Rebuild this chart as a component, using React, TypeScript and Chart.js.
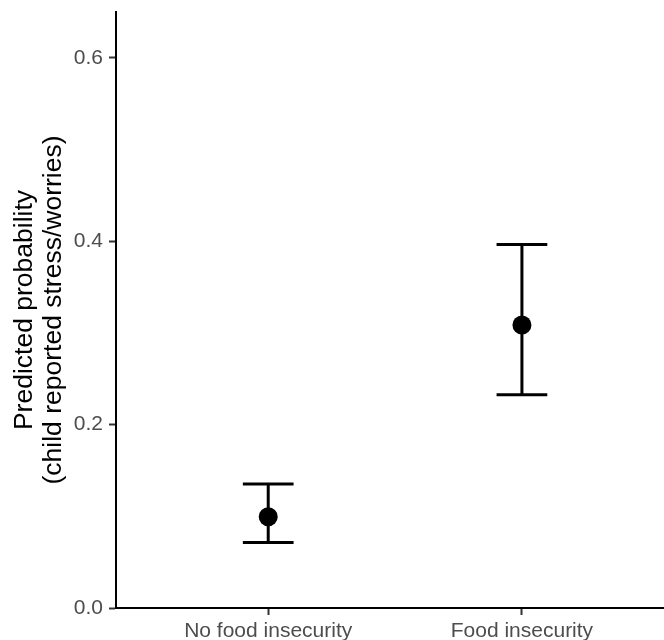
import React, { useEffect, useRef } from "react";
import { Chart, registerables } from "chart.js";

Chart.register(...registerables);

const categories = ["No food insecurity", "Food insecurity"];
const categoryPositions = [1, 2];
const estimates = [0.0996, 0.3087];
const lowerBounds = [0.0713, 0.2327];
const upperBounds = [0.1353, 0.3963];
const yTicks = [0, 0.2, 0.4, 0.6];
const yTickLabels = ["0.0", "0.2", "0.4", "0.6"];
const yTitle = ["Predicted probability", "(child reported stress/worries)"];
const capHalfWidth = 0.1;

const FONT = "'Liberation Sans', Arial, Helvetica, sans-serif";

const errorBarPlugin = {
  id: "errorBars",
  beforeDatasetsDraw(chart: any) {
    const { ctx, scales } = chart;
    const xs = scales.x;
    const ys = scales.y;
    ctx.save();
    ctx.strokeStyle = "#000000";
    ctx.lineWidth = 3;
    ctx.lineCap = "butt";
    for (let i = 0; i < categoryPositions.length; i++) {
      const x = xs.getPixelForValue(categoryPositions[i]);
      const xl = xs.getPixelForValue(categoryPositions[i] - capHalfWidth);
      const xr = xs.getPixelForValue(categoryPositions[i] + capHalfWidth);
      const yl = ys.getPixelForValue(lowerBounds[i]);
      const yh = ys.getPixelForValue(upperBounds[i]);
      ctx.beginPath();
      ctx.moveTo(x, yl);
      ctx.lineTo(x, yh);
      ctx.moveTo(xl, yh);
      ctx.lineTo(xr, yh);
      ctx.moveTo(xl, yl);
      ctx.lineTo(xr, yl);
      ctx.stroke();
    }
    ctx.restore();
  },
};

export default function App() {
  const ref = useRef<HTMLCanvasElement | null>(null);

  useEffect(() => {
    if (!ref.current) return;
    const chart = new Chart(ref.current, {
      type: "scatter",
      data: {
        datasets: [
          {
            data: categoryPositions.map((x, i) => ({ x, y: estimates[i] })),
            backgroundColor: "#000000",
            borderWidth: 0,
            pointRadius: 9.5,
            pointHoverRadius: 9.5,
          },
        ],
      },
      options: {
        animation: false,
        responsive: false,
        events: [],
        layout: { autoPadding: false, padding: { top: 12, right: 0, left: 0, bottom: 0 } },
        plugins: {
          legend: { display: false },
          tooltip: { enabled: false },
        },
        scales: {
          x: {
            type: "linear",
            min: 0.4,
            max: 2.56,
            afterBuildTicks: (scale: any) => {
              scale.ticks = categoryPositions.map((v) => ({ value: v }));
            },
            afterFit: (scale: any) => {
              scale.height = 32;
              scale.paddingLeft = 0;
              scale.paddingRight = 0;
            },
            ticks: {
              autoSkip: false,
              maxRotation: 0,
              padding: 4,
              color: "#4D4D4D",
              font: { family: FONT, size: 21 },
              callback: (value: any) => {
                const idx = categoryPositions.indexOf(Number(value));
                return idx >= 0 ? categories[idx] : "";
              },
            },
            grid: {
              display: true,
              drawOnChartArea: false,
              drawTicks: true,
              tickLength: 7,
              tickColor: "#333333",
              tickWidth: 2,
            },
            border: { display: true, color: "#000000", width: 2 },
          },
          y: {
            type: "linear",
            min: 0,
            max: 0.65,
            afterBuildTicks: (scale: any) => {
              scale.ticks = yTicks.map((v) => ({ value: v }));
            },
            afterFit: (scale: any) => {
              scale.width = 116;
              scale.paddingTop = 0;
              scale.paddingBottom = 0;
            },
            ticks: {
              autoSkip: false,
              padding: 6,
              color: "#4D4D4D",
              font: { family: FONT, size: 21 },
              callback: (value: any) => {
                const idx = yTicks.indexOf(Number(value));
                return idx >= 0 ? yTickLabels[idx] : "";
              },
            },
            grid: {
              display: true,
              drawOnChartArea: false,
              drawTicks: true,
              tickLength: 7,
              tickColor: "#333333",
              tickWidth: 2,
            },
            border: { display: true, color: "#000000", width: 2 },
            title: {
              display: true,
              text: yTitle,
              color: "#000000",
              font: { family: FONT, size: 26.5, lineHeight: 1.1 },
              padding: { top: 10, bottom: 0 },
            },
          },
        },
      },
      plugins: [errorBarPlugin],
    });
    return () => chart.destroy();
  }, []);

  return (
    <div style={{ position: "fixed", left: 0, top: 0, width: 664, height: 640, background: "#fff" }}>
      <canvas ref={ref} width={664} height={640} style={{ display: "block" }} />
    </div>
  );
}
